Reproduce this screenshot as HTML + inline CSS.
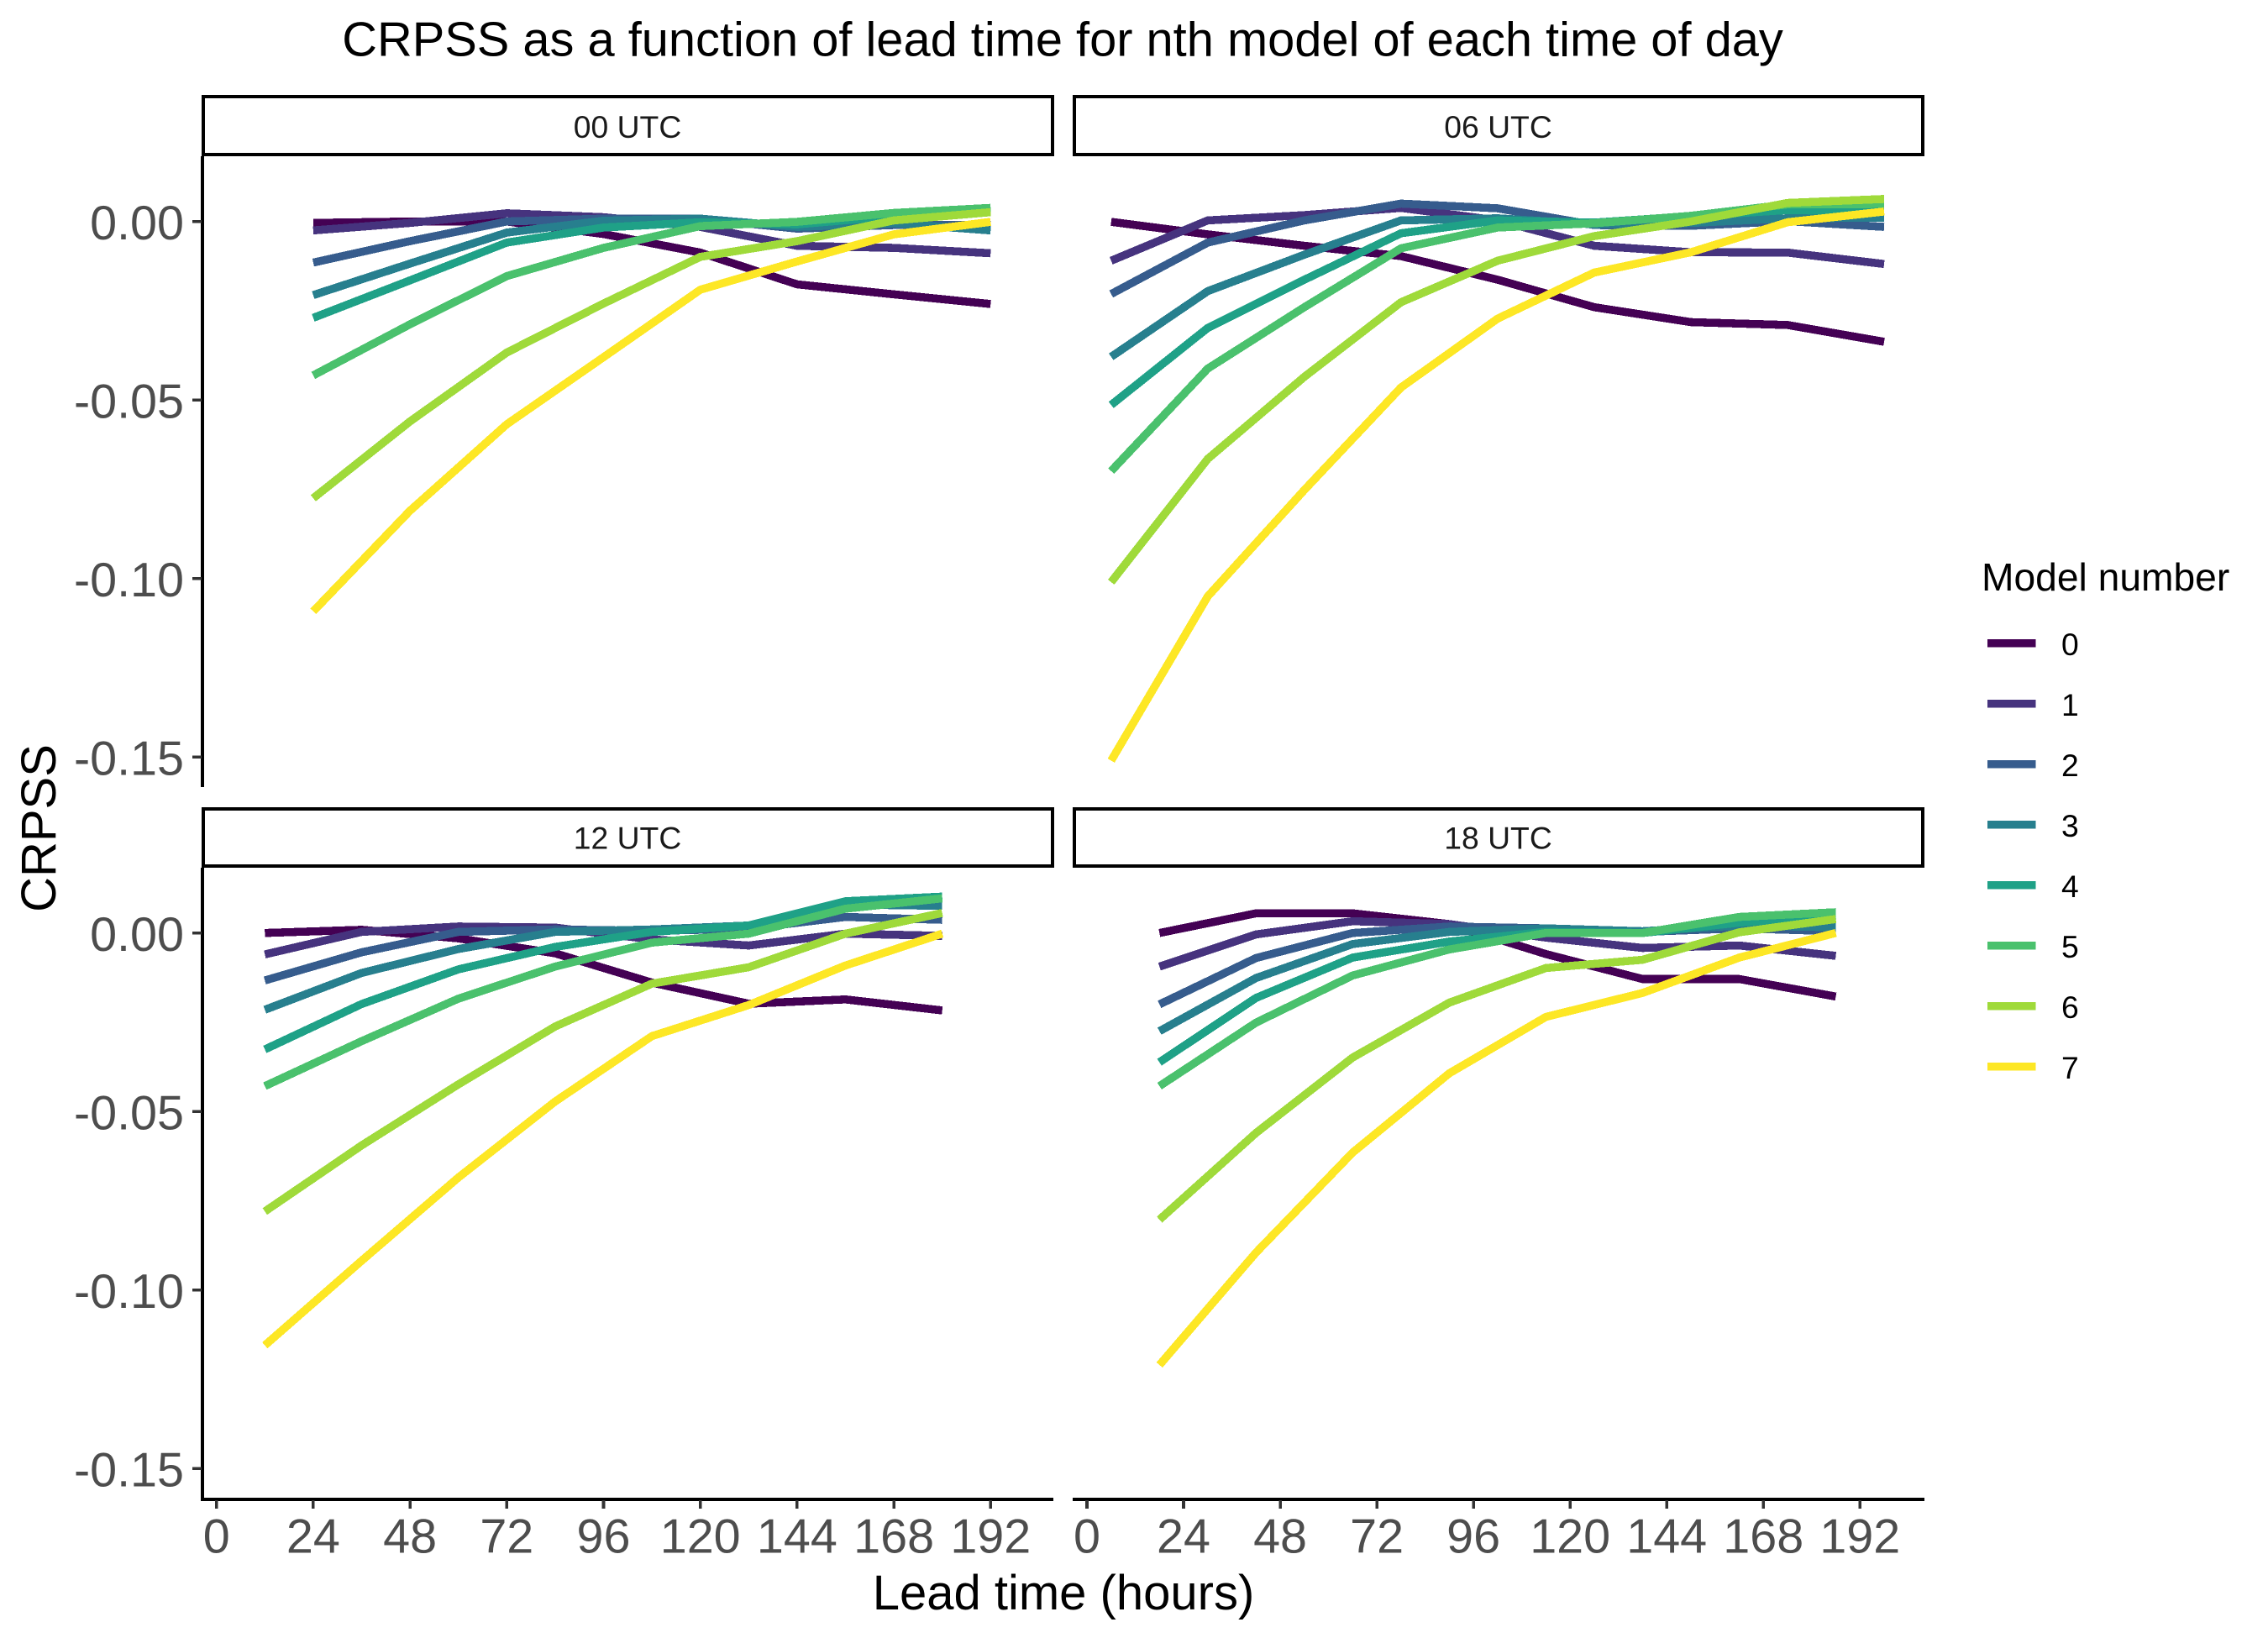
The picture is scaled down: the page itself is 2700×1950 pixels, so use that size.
<!DOCTYPE html>
<html lang="en">
<head>
<meta charset="utf-8">
<title>CRPSS as a function of lead time</title>
<style>
html,body{margin:0;padding:0;background:#fff;width:2700px;height:1950px;overflow:hidden}
svg{display:block;font-family:"Liberation Sans",Arial,sans-serif}
</style>
</head>
<body>
<svg id="chart" xmlns="http://www.w3.org/2000/svg" width="2700" height="1950" viewBox="0 0 2700 1950">
  <rect x="0" y="0" width="2700" height="1950" fill="#fff"/>
  <text x="1265" y="66.5" font-size="57.8" text-anchor="middle" fill="#000">CRPSS as a function of lead time for nth model of each time of day</text>

  <g>
    <rect x="242" y="115" width="1011" height="69" fill="#fff" stroke="#000" stroke-width="4" shape-rendering="crispEdges"/>
    <text x="747" y="164" font-size="37.3" text-anchor="middle" fill="#1a1a1a">00 UTC</text>
  </g>
  <g>
    <rect x="1279" y="115" width="1010" height="69" fill="#fff" stroke="#000" stroke-width="4" shape-rendering="crispEdges"/>
    <text x="1783.5" y="164" font-size="37.3" text-anchor="middle" fill="#1a1a1a">06 UTC</text>
  </g>
  <g>
    <rect x="242" y="963" width="1011" height="68" fill="#fff" stroke="#000" stroke-width="4" shape-rendering="crispEdges"/>
    <text x="747" y="1010.5" font-size="37.3" text-anchor="middle" fill="#1a1a1a">12 UTC</text>
  </g>
  <g>
    <rect x="1279" y="963" width="1010" height="68" fill="#fff" stroke="#000" stroke-width="4" shape-rendering="crispEdges"/>
    <text x="1783.5" y="1010.5" font-size="37.3" text-anchor="middle" fill="#1a1a1a">18 UTC</text>
  </g>

  <line x1="241" y1="186" x2="241" y2="937" stroke="#000" stroke-width="4" shape-rendering="crispEdges"/>
  <line x1="241" y1="1033" x2="241" y2="1787" stroke="#000" stroke-width="4" shape-rendering="crispEdges"/>
  <line x1="239" y1="1785" x2="1254" y2="1785" stroke="#000" stroke-width="4" shape-rendering="crispEdges"/>
  <line x1="1277" y1="1785" x2="2291" y2="1785" stroke="#000" stroke-width="4" shape-rendering="crispEdges"/>

  <g id="ticks"></g>
  <g id="series"></g>

  <text x="1266" y="1916" font-size="58" text-anchor="middle" fill="#000">Lead time (hours)</text>
  <text transform="translate(66 986) rotate(-90)" font-size="58" text-anchor="middle" fill="#000">CRPSS</text>

  <g>
    <text x="2359" y="703" font-size="46.2" fill="#000">Model number</text>
    <g><line x1="2365.8" x2="2423.4" y1="765.8" y2="765.8" stroke="#440154" stroke-width="9.6" shape-rendering="crispEdges"/><text x="2454" y="780" font-size="37.3" fill="#000">0</text></g>
    <g><line x1="2365.8" x2="2423.4" y1="837.8" y2="837.8" stroke="#46337E" stroke-width="9.6" shape-rendering="crispEdges"/><text x="2454" y="852" font-size="37.3" fill="#000">1</text></g>
    <g><line x1="2365.8" x2="2423.4" y1="909.8" y2="909.8" stroke="#365C8D" stroke-width="9.6" shape-rendering="crispEdges"/><text x="2454" y="924" font-size="37.3" fill="#000">2</text></g>
    <g><line x1="2365.8" x2="2423.4" y1="981.8" y2="981.8" stroke="#277F8E" stroke-width="9.6" shape-rendering="crispEdges"/><text x="2454" y="996" font-size="37.3" fill="#000">3</text></g>
    <g><line x1="2365.8" x2="2423.4" y1="1053.8" y2="1053.8" stroke="#1FA187" stroke-width="9.6" shape-rendering="crispEdges"/><text x="2454" y="1068" font-size="37.3" fill="#000">4</text></g>
    <g><line x1="2365.8" x2="2423.4" y1="1125.8" y2="1125.8" stroke="#4AC16D" stroke-width="9.6" shape-rendering="crispEdges"/><text x="2454" y="1140" font-size="37.3" fill="#000">5</text></g>
    <g><line x1="2365.8" x2="2423.4" y1="1197.8" y2="1197.8" stroke="#9FDA3A" stroke-width="9.6" shape-rendering="crispEdges"/><text x="2454" y="1212" font-size="37.3" fill="#000">6</text></g>
    <g><line x1="2365.8" x2="2423.4" y1="1269.8" y2="1269.8" stroke="#FDE725" stroke-width="9.6" shape-rendering="crispEdges"/><text x="2454" y="1284" font-size="37.3" fill="#000">7</text></g>
  </g>
</svg>

<script>
const modelColors = ['#440154', '#46337E', '#365C8D', '#277F8E', '#1FA187', '#4AC16D', '#9FDA3A', '#FDE725'];
const xTickValues = [0, 24, 48, 72, 96, 120, 144, 168, 192];
const yTickValues = [0, -0.05, -0.10, -0.15];
const yTickLabels = ['0.00', '-0.05', '-0.10', '-0.15'];

const leads00 = [24, 48, 72, 96, 120, 144, 168, 192];
const leads06 = [6, 30, 54, 78, 102, 126, 150, 174, 198];
const leads12 = [12, 36, 60, 84, 108, 132, 156, 180];
const leads18 = [18, 42, 66, 90, 114, 138, 162, 186];

const crpss00 = [
  [-0.0004, 0.0000, 0.0000, -0.0035, -0.0087, -0.0176, -0.0204, -0.0231],
  [-0.0025, -0.0004, 0.0023, 0.0012, -0.0015, -0.0068, -0.0074, -0.0089],
  [-0.0115, -0.0055, 0.0000, 0.0008, 0.0008, -0.0020, -0.0010, -0.0010],
  [-0.0206, -0.0118, -0.0031, 0.0002, 0.0008, -0.0015, -0.0005, -0.0025],
  [-0.0270, -0.0165, -0.0059, -0.0017, -0.0002, -0.0008, 0.0015, 0.0030],
  [-0.0431, -0.0288, -0.0153, -0.0074, -0.0013, -0.0001, 0.0024, 0.0038],
  [-0.0775, -0.0560, -0.0367, -0.0230, -0.0099, -0.0055, 0.0003, 0.0026],
  [-0.1092, -0.0810, -0.0568, -0.0380, -0.0191, -0.0112, -0.0036, -0.0001]
];
const crpss06 = [
  [-0.0001, -0.0036, -0.0068, -0.0097, -0.0163, -0.0240, -0.0282, -0.0290, -0.0337],
  [-0.0110, 0.0003, 0.0018, 0.0038, 0.0003, -0.0068, -0.0086, -0.0087, -0.0119],
  [-0.0203, -0.0059, 0.0003, 0.0050, 0.0037, -0.0010, -0.0012, 0.0001, -0.0015],
  [-0.0379, -0.0195, -0.0093, 0.0003, 0.0009, -0.0008, -0.0004, 0.0009, 0.0011],
  [-0.0514, -0.0298, -0.0163, -0.0033, 0.0003, -0.0003, 0.0015, 0.0032, 0.0028],
  [-0.0699, -0.0412, -0.0240, -0.0075, -0.0017, -0.0005, 0.0016, 0.0048, 0.0049],
  [-0.1010, -0.0665, -0.0435, -0.0226, -0.0110, -0.0041, 0.0000, 0.0052, 0.0063],
  [-0.1510, -0.1050, -0.0752, -0.0465, -0.0272, -0.0143, -0.0086, -0.0002, 0.0028]
];
const crpss12 = [
  [0.0000, 0.0009, -0.0015, -0.0057, -0.0139, -0.0198, -0.0186, -0.0217],
  [-0.0060, 0.0003, 0.0018, 0.0015, -0.0018, -0.0035, -0.0002, -0.0008],
  [-0.0133, -0.0054, 0.0003, 0.0010, 0.0006, 0.0012, 0.0045, 0.0037],
  [-0.0215, -0.0112, -0.0045, 0.0003, 0.0010, 0.0021, 0.0080, 0.0076],
  [-0.0326, -0.0199, -0.0102, -0.0039, 0.0003, 0.0021, 0.0089, 0.0102],
  [-0.0429, -0.0303, -0.0184, -0.0094, -0.0027, -0.0002, 0.0068, 0.0097],
  [-0.0780, -0.0595, -0.0424, -0.0262, -0.0142, -0.0096, -0.0002, 0.0056],
  [-0.1155, -0.0918, -0.0685, -0.0472, -0.0289, -0.0202, -0.0091, -0.0002]
];
const crpss18 = [
  [0.0000, 0.0055, 0.0055, 0.0025, -0.0059, -0.0129, -0.0129, -0.0178],
  [-0.0094, -0.0004, 0.0033, 0.0025, -0.0013, -0.0042, -0.0035, -0.0064],
  [-0.0200, -0.0070, 0.0000, 0.0018, 0.0013, 0.0003, 0.0013, 0.0005],
  [-0.0275, -0.0126, -0.0031, 0.0003, 0.0013, 0.0005, 0.0021, 0.0016],
  [-0.0362, -0.0182, -0.0069, -0.0024, 0.0003, 0.0000, 0.0029, 0.0049],
  [-0.0429, -0.0251, -0.0119, -0.0046, 0.0000, 0.0000, 0.0045, 0.0058],
  [-0.0803, -0.0560, -0.0349, -0.0195, -0.0098, -0.0075, 0.0002, 0.0039],
  [-0.1210, -0.0895, -0.0615, -0.0393, -0.0235, -0.0168, -0.0069, 0.0000]
];

const SVG_NS = 'http://www.w3.org/2000/svg';
const seriesLayer = document.getElementById('series');
const tickLayer = document.getElementById('ticks');

function xScaleLeft(h) { return 257.7 + 4.8 * h; }
function xScaleRight(h) { return 1294 + 4.793 * h; }
function yScaleTop(v) { return 263.7 - 4250 * v; }
function yScaleBottom(v) { return 1110.7 - 4250 * v; }

function drawPanel(panelName, leads, rows, xScale, yScale) {
  rows.forEach(function (values, m) {
    const line = document.createElementNS(SVG_NS, 'polyline');
    
    
    line.setAttribute('data-panel', panelName);
    line.setAttribute('data-model', String(m));
    line.setAttribute('fill', 'none');
    line.setAttribute('stroke', modelColors[m]);
    line.setAttribute('stroke-width', '9.6');
    line.setAttribute('stroke-linejoin', 'round');
    line.setAttribute('stroke-linecap', 'butt');
    line.setAttribute('shape-rendering', 'crispEdges');
    line.setAttribute('points', values.map(function (v, i) {
      return xScale(leads[i]).toFixed(1) + ',' + yScale(v).toFixed(1);
    }).join(' '));
    seriesLayer.appendChild(line);
  });
}

function drawYAxis(yScale) {
  yTickValues.forEach(function (v, i) {
    const y = yScale(v);
    const tick = document.createElementNS(SVG_NS, 'line');
    
    
    tick.setAttribute('x1', '229');
    tick.setAttribute('x2', '240');
    tick.setAttribute('y1', y);
    tick.setAttribute('y2', y);
    tick.setAttribute('stroke', '#333333');
    tick.setAttribute('stroke-width', '3.6');
    tick.setAttribute('shape-rendering', 'crispEdges');
    tickLayer.appendChild(tick);
    const label = document.createElementNS(SVG_NS, 'text');
    
    
    label.setAttribute('x', '219');
    label.setAttribute('y', y + 21.5);
    label.setAttribute('font-size', '57.5');
    label.setAttribute('text-anchor', 'end');
    label.setAttribute('fill', '#4D4D4D');
    label.textContent = yTickLabels[i];
    tickLayer.appendChild(label);
  });
}

function drawXAxis(xScale) {
  xTickValues.forEach(function (h) {
    const x = xScale(h);
    const tick = document.createElementNS(SVG_NS, 'line');
    
    
    tick.setAttribute('x1', x);
    tick.setAttribute('x2', x);
    tick.setAttribute('y1', '1786');
    tick.setAttribute('y2', '1796');
    tick.setAttribute('stroke', '#333333');
    tick.setAttribute('stroke-width', '3.6');
    tick.setAttribute('shape-rendering', 'crispEdges');
    tickLayer.appendChild(tick);
    const label = document.createElementNS(SVG_NS, 'text');
    
    
    label.setAttribute('x', x);
    label.setAttribute('y', '1848.5');
    label.setAttribute('font-size', '57.5');
    label.setAttribute('text-anchor', 'middle');
    label.setAttribute('fill', '#4D4D4D');
    label.textContent = String(h);
    tickLayer.appendChild(label);
  });
}

drawYAxis(yScaleTop);
drawYAxis(yScaleBottom);
drawXAxis(xScaleLeft);
drawXAxis(xScaleRight);
drawPanel('00-utc', leads00, crpss00, xScaleLeft, yScaleTop);
drawPanel('06-utc', leads06, crpss06, xScaleRight, yScaleTop);
drawPanel('12-utc', leads12, crpss12, xScaleLeft, yScaleBottom);
drawPanel('18-utc', leads18, crpss18, xScaleRight, yScaleBottom);
</script>
</body>
</html>
